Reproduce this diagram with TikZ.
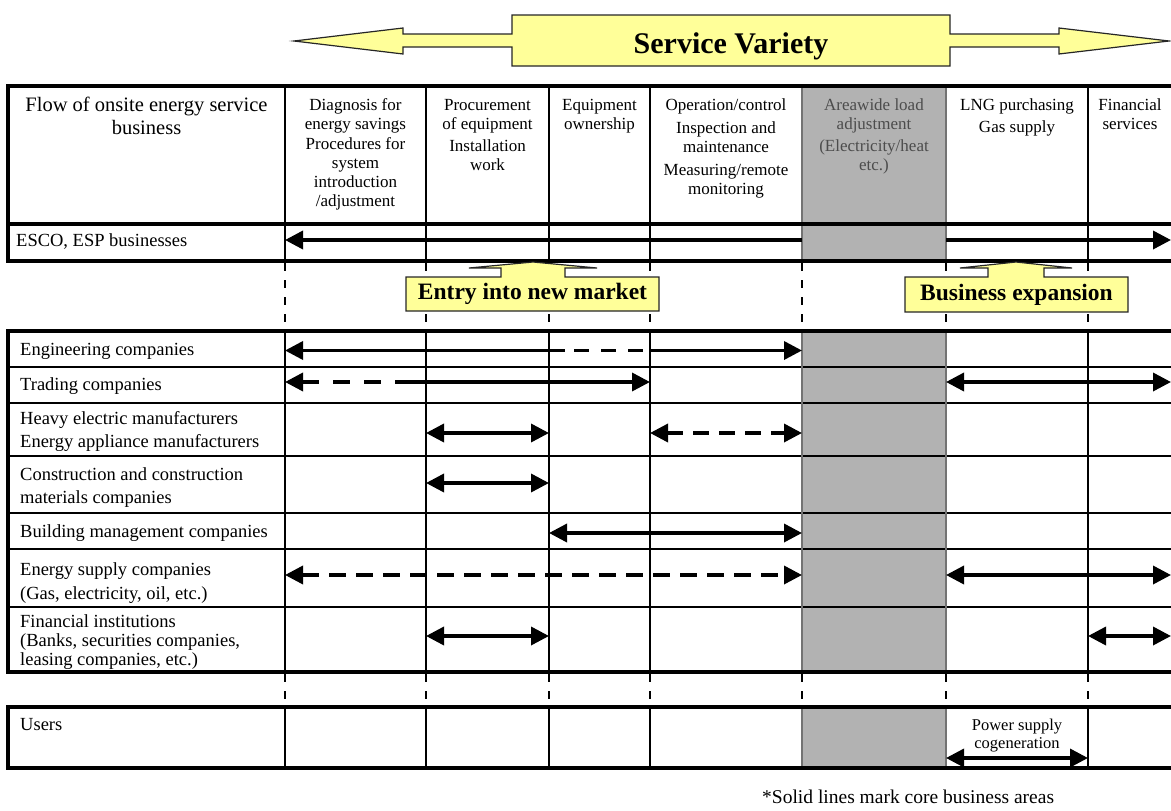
\documentclass[tikz,border=0pt]{standalone}
\usepackage{fontspec}
\setmainfont{Liberation Serif}
\usetikzlibrary{arrows.meta}
\definecolor{calloutfill}{HTML}{FFFF99}
\definecolor{bandfill}{HTML}{B2B2B2}
% invisible rules that fix the height of a first text line
\newcommand{\hstrut}{\rule{0pt}{14pt}}
\newcommand{\lstrut}{\rule{0pt}{16pt}}

\tikzset{
  rulethick/.style={line width=4pt, line join=miter},
  rulethin/.style={line width=2pt},
  bandedge/.style={line width=2pt, draw=black!55},
  guide/.style={line width=2pt, dash pattern=on 8pt off 9pt},
  flow/.style={line width=3.5pt},
  tipstart/.style={{Triangle[length=18pt,width=18pt]}-},
  tipend/.style={-{Triangle[length=18pt,width=18pt]}},
  tipboth/.style={{Triangle[length=18pt,width=18pt]}-{Triangle[length=18pt,width=18pt]}},
  broken/.style={dash pattern=on 16pt off 10pt},
  callout/.style={fill=calloutfill, draw=black!85, line width=1.2pt, line join=miter},
  colhead/.style={anchor=north, inner sep=0pt, align=center, font=\fontsize{17}{19}\selectfont},
  rowlabel/.style={anchor=base west, inner sep=0pt, font=\fontsize{18.5}{22}\selectfont},
  rowlabelml/.style={anchor=north west, inner sep=0pt, align=left},
  bigword/.style={anchor=base, inner sep=0pt, font=\bfseries\fontsize{23.5}{26}\selectfont},
}

\begin{document}
\begin{tikzpicture}[x=1pt,y=-1pt]
\useasboundingbox (0,0) rectangle (1171,811);

% ---------- header and ESCO table ----------
\fill[bandfill] (802,86) rectangle (946,261);
\foreach \x in {285,426,549,650,1088} \draw[rulethin] (\x,86) -- (\x,261);
\foreach \x in {802,946} \draw[bandedge] (\x,86) -- (\x,261);
\draw[rulethick] (8,224) -- (1173,224);
\draw[rulethick] (1173,86) -- (8,86) -- (8,261) -- (1173,261);

% ---------- dashed guides between the tables ----------
\foreach \x in {285,426,549,650,802,946,1088} {
  \draw[guide] (\x,263) -- (\x,329);
  \draw[guide] (\x,674) -- (\x,705);
}

% ---------- company table ----------
\fill[bandfill] (802,331) rectangle (946,672);
\foreach \y in {366.5,402.5,456,512.5,549,606.5} \draw[rulethin] (8,\y) -- (1173,\y);
\foreach \x in {285,426,549,650,1088} \draw[rulethin] (\x,331) -- (\x,672);
\foreach \x in {802,946} \draw[bandedge] (\x,331) -- (\x,672);
\draw[rulethick] (1173,331) -- (8,331) -- (8,672) -- (1173,672);

% ---------- users table ----------
\fill[bandfill] (802,707) rectangle (946,768);
\foreach \x in {285,426,549,650,1088} \draw[rulethin] (\x,707) -- (\x,768);
\foreach \x in {802,946} \draw[bandedge] (\x,707) -- (\x,768);
\draw[rulethick] (1173,707) -- (8,707) -- (8,768) -- (1173,768);

% ---------- column headings ----------
\node[anchor=north, inner sep=0pt, align=center, font=\fontsize{20.5}{23}\selectfont]
  (hdr-flow) at (146.5,96) {\rule{0pt}{15pt}Flow of onsite energy service\\business};
\node[colhead] (hdr-diag) at (355.5,96)
  {\hstrut Diagnosis for\\energy savings\\[1pt]Procedures for\\system\\introduction\\/adjustment};
\node[colhead] (hdr-proc) at (487.5,96)
  {\hstrut Procurement\\of equipment\\[3pt]Installation\\work};
\node[colhead] (hdr-own) at (599.5,96) {\hstrut Equipment\\ownership};
\node[colhead] (hdr-oper) at (726,96)
  {\hstrut Operation/control\\[4pt]Inspection and\\maintenance\\[4pt]Measuring/remote\\monitoring};
\node[colhead, text=black!70] (hdr-area) at (874,96)
  {\hstrut Areawide load\\adjustment\\[3pt](Electricity/heat\\etc.)};
\node[colhead] (hdr-lng) at (1017,96) {\hstrut LNG purchasing\\[3pt]Gas supply};
\node[colhead] (hdr-fin) at (1130,96) {\hstrut Financial\\services};

% ---------- row labels ----------
\node[rowlabel] (lbl-esco) at (16,246) {ESCO, ESP businesses};
\node[rowlabel] (lbl-eng) at (20,355) {Engineering companies};
\node[rowlabel] (lbl-trade) at (20,390) {Trading companies};
\node[rowlabelml, font=\fontsize{18.5}{23}\selectfont] (lbl-heavy) at (20,408)
  {\lstrut Heavy electric manufacturers\\Energy appliance manufacturers};
\node[rowlabelml, font=\fontsize{18.5}{23}\selectfont] (lbl-constr) at (20,464)
  {\lstrut Construction and construction\\materials companies};
\node[rowlabel] (lbl-bldg) at (20,537) {Building management companies};
\node[rowlabelml, font=\fontsize{18.5}{24}\selectfont] (lbl-supply) at (20,559)
  {\lstrut Energy supply companies\\(Gas, electricity, oil, etc.)};
\node[rowlabelml, font=\fontsize{18.5}{19}\selectfont] (lbl-fininst) at (20,611)
  {\lstrut Financial institutions\\(Banks, securities companies,\\leasing companies, etc.)};
\node[rowlabel] (lbl-users) at (20,730) {Users};
\node[anchor=north, inner sep=0pt, align=center, font=\fontsize{16.5}{18}\selectfont]
  (lbl-power) at (1017,717) {\rule{0pt}{13pt}Power supply\\cogeneration};

% ---------- business range arrows ----------
\draw[flow,tipstart] (285,240) -- (802,240);
\draw[flow,tipend] (946,240) -- (1171,240);

\draw[flow,tipstart] (285,350.5) -- (565,350.5);
\draw[flow,dash pattern=on 15pt off 12pt] (574,350.5) -- (644,350.5);
\draw[flow,tipend] (650,350.5) -- (802,350.5);

\draw[flow,tipstart,dash pattern=on 17pt off 14pt] (285,382) -- (412,382);
\draw[flow,tipend] (412,382) -- (650,382);
\draw[flow,tipboth] (946,382) -- (1171,382);

\draw[flow,tipboth] (426,433) -- (549,433);
\draw[flow,tipboth,broken] (650,433) -- (802,433);

\draw[flow,tipboth] (426,483) -- (549,483);

\draw[flow,tipboth] (549,533) -- (802,533);

\draw[flow,tipboth,dash pattern=on 17pt off 10pt] (285,575) -- (802,575);
\draw[flow,tipboth] (946,575) -- (1171,575);

\draw[flow,tipboth] (426,636) -- (549,636);
\draw[flow,tipboth] (1088,636) -- (1171,636);

\draw[flow,tipboth] (946,758) -- (1088,758);

% ---------- yellow call-outs ----------
\draw[callout] (294,41) -- (403,28) -- (403,34) -- (512,34) -- (512,15) -- (950,15)
  -- (950,34) -- (1059,34) -- (1059,28) -- (1169,41) -- (1059,54) -- (1059,47)
  -- (950,47) -- (950,66) -- (512,66) -- (512,47) -- (403,47) -- (403,54) -- cycle;
\node[anchor=base, inner sep=0pt, font=\bfseries\fontsize{30}{32}\selectfont]
  (variety) at (731,53) {Service Variety};

\draw[callout] (533,262) -- (597,268) -- (565,268) -- (565,277) -- (659,277)
  -- (659,311) -- (406,311) -- (406,277) -- (501,277) -- (501,268) -- (469,268) -- cycle;
\node[bigword] (entry) at (532.5,299) {Entry into new market};

\draw[callout] (1016,262) -- (1072,268) -- (1044,268) -- (1044,277) -- (1128,277)
  -- (1128,312) -- (905,312) -- (905,277) -- (988,277) -- (988,268) -- (960,268) -- cycle;
\node[bigword] (expand) at (1016.5,300) {Business expansion};

% ---------- footnote ----------
\node[anchor=base west, inner sep=0pt, font=\fontsize{19.5}{22}\selectfont]
  (note) at (762,803) {*Solid lines mark core business areas};
\end{tikzpicture}
\end{document}
